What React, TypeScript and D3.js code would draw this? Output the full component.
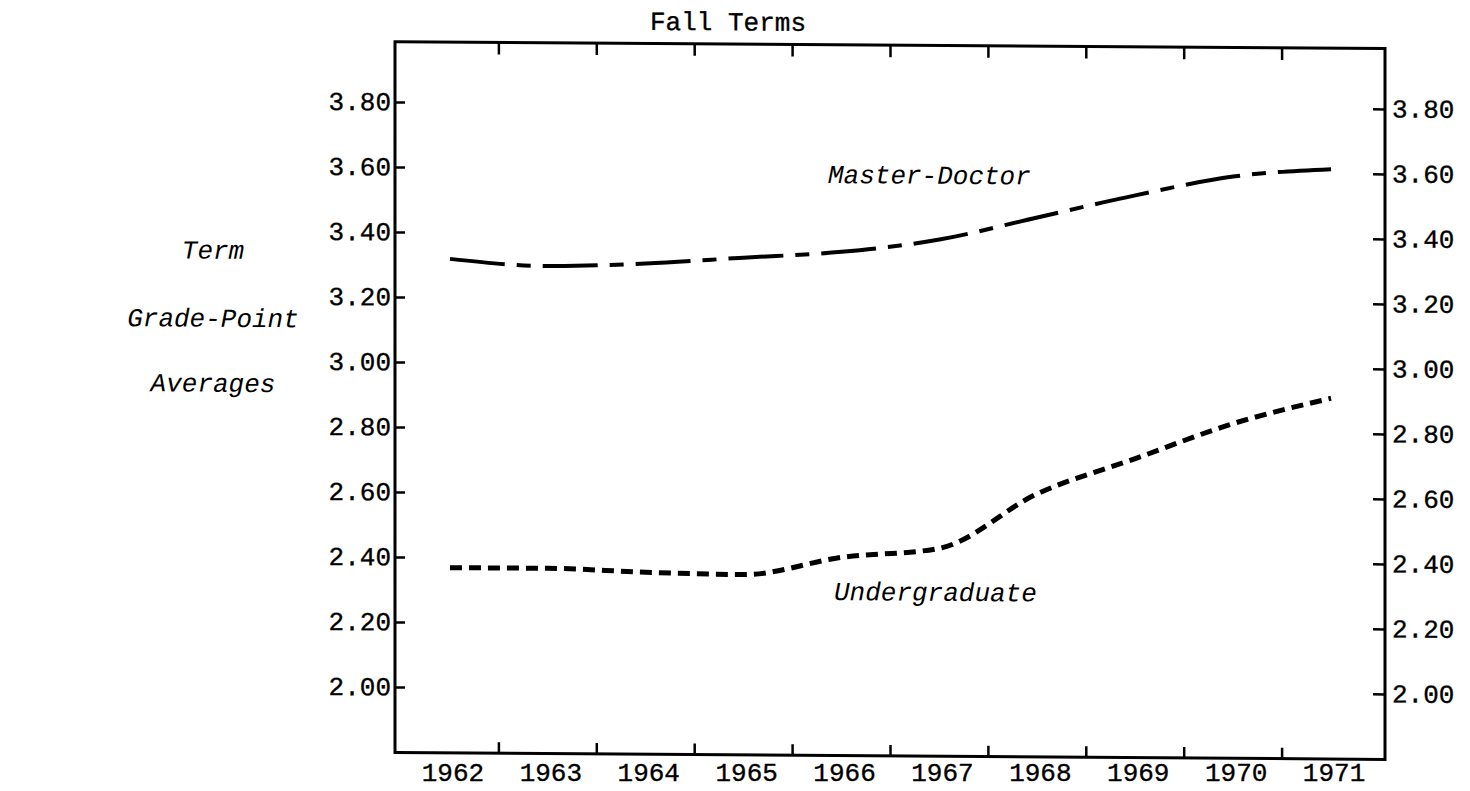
import React from "react";
import * as d3 from "d3";

const years = [1962, 1963, 1964, 1965, 1966, 1967, 1968, 1969, 1970, 1971];
const masterDoctor = [3.32, 3.30, 3.31, 3.33, 3.35, 3.39, 3.46, 3.53, 3.59, 3.615];
const undergraduate = [2.37, 2.37, 2.36, 2.355, 2.41, 2.44, 2.61, 2.72, 2.83, 2.91];
const yTicks = [2.0, 2.2, 2.4, 2.6, 2.8, 3.0, 3.2, 3.4, 3.6, 3.8];
const title = "Fall Terms";
const yAxisLabel = ["Term", "Grade-Point", "Averages"];
const seriesNames = ["Master-Doctor", "Undergraduate"];

const W = 1470;
const H = 791;
const frame = { left: 395, right: 1385, top: 41.7, bottom: 752.5 };
const FONT = "'Liberation Mono', 'Courier New', monospace";

export default function App() {
  const x = d3.scaleLinear().domain([1961.5, 1971.5]).range([401, 1380]);
  const y = d3.scaleLinear().domain([1.8, 3.987]).range([frame.bottom, frame.top]);
  const line = d3
    .line<number>()
    .x((_, i) => x(years[i]))
    .y((d) => y(d))
    .curve(d3.curveMonotoneX);
  const boundaries = years.slice(0, -1).map((yr) => yr + 0.5);
  const fmt = d3.format(".2f");
  const skew = `translate(${frame.left},0) skewY(0.4) translate(${-frame.left},0)`;
  const ink = { fill: "#000", stroke: "#000", strokeWidth: 0.35 };

  return (
    <svg
      width={W}
      height={H}
      style={{ position: "absolute", left: 0, top: 0, background: "#fff" }}
      fontFamily={FONT}
    >
      <rect x={0} y={0} width={W} height={H} fill="#fff" />
      <g transform={skew}>
        {/* frame */}
        <rect
          x={frame.left}
          y={frame.top}
          width={frame.right - frame.left}
          height={frame.bottom - frame.top}
          fill="none"
          stroke="#000"
          strokeWidth={3}
        />
        {/* title */}
        <text x={728} y={28} fontSize={26} textAnchor="middle" {...ink}>
          {title}
        </text>
        {/* y ticks both sides */}
        {yTicks.map((t) => (
          <g key={t}>
            <line x1={frame.left} x2={frame.left + 10} y1={y(t)} y2={y(t)} stroke="#000" strokeWidth={2.5} />
            <text x={391} y={y(t) + 8} fontSize={26} textAnchor="end" {...ink}>
              {fmt(t)}
            </text>
            <line x1={frame.right - 12} x2={frame.right} y1={y(t)} y2={y(t)} stroke="#000" strokeWidth={2.5} />
            <text x={1392} y={y(t) + 8} fontSize={26} textAnchor="start" {...ink}>
              {fmt(t)}
            </text>
          </g>
        ))}
        {/* x ticks top and bottom */}
        {boundaries.map((b) => (
          <g key={b}>
            <line x1={x(b)} x2={x(b)} y1={frame.bottom} y2={frame.bottom - 11} stroke="#000" strokeWidth={2.5} />
            <line x1={x(b)} x2={x(b)} y1={frame.top} y2={frame.top + 12} stroke="#000" strokeWidth={2.5} />
          </g>
        ))}
        {/* y-axis label */}
        {yAxisLabel.map((s, i) => (
          <text
            key={s}
            x={213}
            y={[260, 328, 393][i]}
            fontSize={26}
            fontStyle="italic"
            textAnchor="middle"
            fill="#000"
          >
            {s}
          </text>
        ))}
        {/* series */}
        <path
          d={line(masterDoctor) || ""}
          fill="none"
          stroke="#000"
          strokeWidth={4}
          strokeDasharray="55 12 14 12"
        />
        <path
          d={line(undergraduate) || ""}
          fill="none"
          stroke="#000"
          strokeWidth={5}
          strokeDasharray="12 7"
        />
        <text x={828} y={180} fontSize={26} fontStyle="italic" fill="#000">
          {seriesNames[0]}
        </text>
        <text x={834} y={597} fontSize={26} fontStyle="italic" fill="#000">
          {seriesNames[1]}
        </text>
      </g>
      {/* x labels (unskewed so they stay inside the page) */}
      {years.map((yr) => (
        <text key={yr} x={x(yr) + 3} y={781} fontSize={26} textAnchor="middle" {...ink}>
          {yr}
        </text>
      ))}
    </svg>
  );
}
